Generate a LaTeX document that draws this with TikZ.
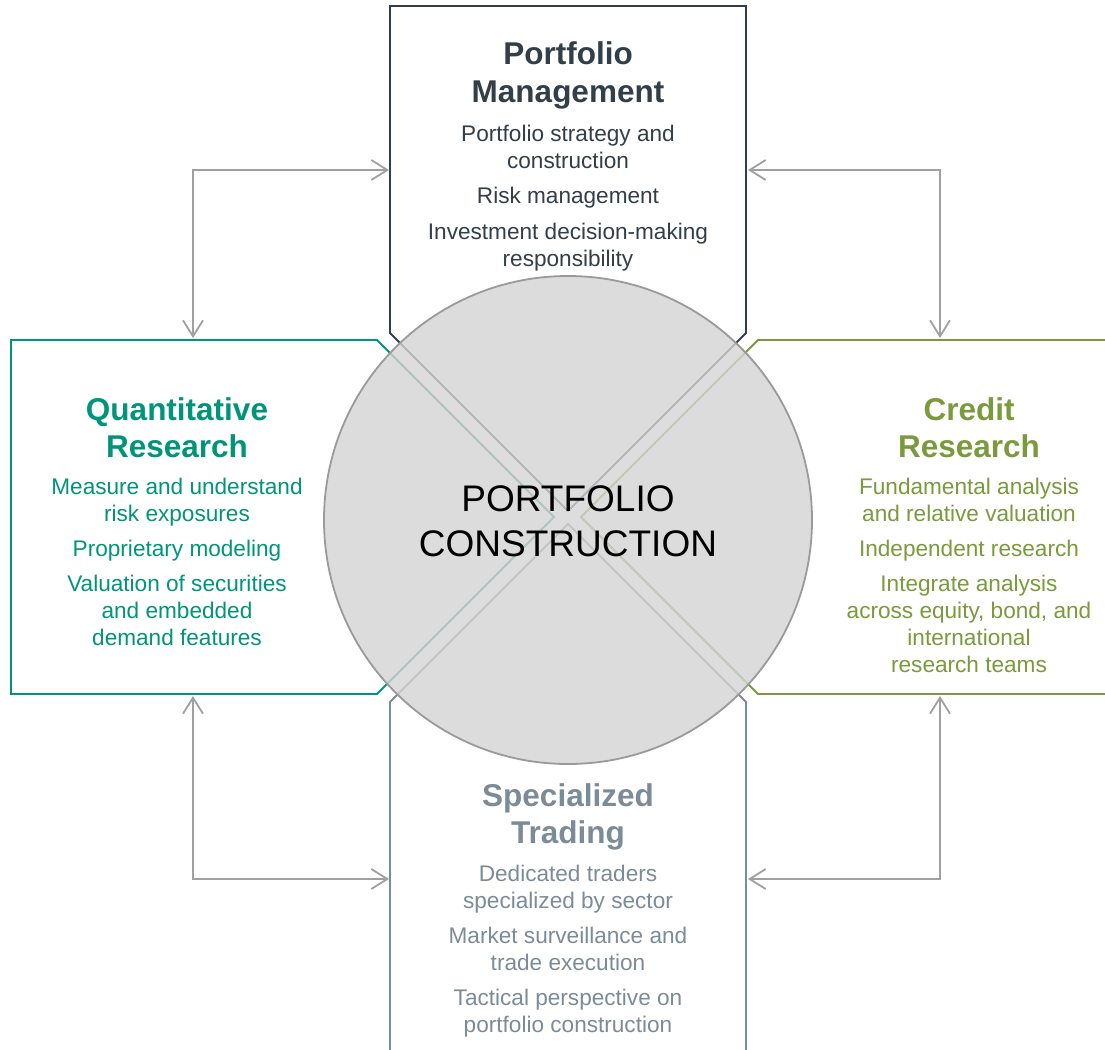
\documentclass[tikz,border=0pt]{standalone}
\usepackage{fontspec}
\setmainfont{Liberation Sans}
\usetikzlibrary{arrows.meta}

\definecolor{pmcol}{HTML}{333F48}
\definecolor{qrcol}{HTML}{00957A}
\definecolor{crcol}{HTML}{7A9A3C}
\definecolor{stcol}{HTML}{7C8B98}
\definecolor{arrcol}{HTML}{A0A0A0}
\definecolor{discfill}{HTML}{D4D4D4}
\definecolor{discline}{HTML}{9A9A9A}

\begin{document}
\begin{tikzpicture}[x=1pt,y=-1pt,
  boxline/.style={line width=1.8pt, fill=white, line join=miter},
  link/.style={draw=arrcol, line width=1.8pt, line join=miter,
    {Straight Barb[length=16pt,width=20pt]}-{Straight Barb[length=16pt,width=20pt]}},
  head/.style={font=\fontsize{31.5}{37}\selectfont\bfseries, anchor=base, align=center, inner sep=0pt},
  item/.style={font=\fontsize{22.6}{27}\selectfont, anchor=base, align=center, inner sep=0pt},
  centre/.style={font=\fontsize{37}{45}\selectfont, anchor=base, align=center, inner sep=0pt}]

\clip (0,0) rectangle (1105,1049);

% the four area boxes, each pointing into the centre
\draw[boxline, draw=pmcol] (390,6) -- (746,6) -- (746,333) -- (568,511) -- (390,333) -- cycle;
\draw[boxline, draw=qrcol] (11,340) -- (377,340) -- (554,517) -- (377,694) -- (11,694) -- cycle;
\draw[boxline, draw=crcol] (1130,340) -- (758,340) -- (581,517) -- (758,694) -- (1130,694) -- cycle;
\draw[boxline, draw=stcol] (390,1070) -- (390,702) -- (568,524) -- (746,702) -- (746,1070) -- cycle;

% central disc
\draw[draw=discline, line width=1.8pt, fill=discfill, fill opacity=0.8] (568,520) circle[radius=244pt];
% (base anchor of a multi-line node = baseline of its last line)
\node[centre] (core) at (568,556) {PORTFOLIO\\CONSTRUCTION};

% connector end points on the box edges
\coordinate (pmL) at (389,170);
\coordinate (pmR) at (748,170);
\coordinate (qrT) at (193,338);
\coordinate (qrB) at (193,696);
\coordinate (crT) at (940,338);
\coordinate (crB) at (940,696);
\coordinate (stL) at (389,879);
\coordinate (stR) at (748,879);

\draw[link] (pmL) -| (qrT);
\draw[link] (pmR) -| (crT);
\draw[link] (qrB) |- (stL);
\draw[link] (crB) |- (stR);

% Portfolio Management
\node[head, text=pmcol] (pmH) at (568,102) {Portfolio\\Management};
\node[item, text=pmcol] (pm1) at (568,168) {Portfolio strategy and\\construction};
\node[item, text=pmcol] (pm2) at (568,203) {Risk management};
\node[item, text=pmcol] (pm3) at (568,266) {Investment decision-making\\responsibility};

% Quantitative Research
\node[head, text=qrcol] (qrH) at (177,457) {Quantitative\\Research};
\node[item, text=qrcol] (qr1) at (177,521) {Measure and understand\\risk exposures};
\node[item, text=qrcol] (qr2) at (177,556) {Proprietary modeling};
\node[item, text=qrcol] (qr3) at (177,645) {Valuation of securities\\and embedded\\demand features};

% Credit Research
\node[head, text=crcol] (crH) at (969,457) {Credit\\Research};
\node[item, text=crcol] (cr1) at (969,521) {Fundamental analysis\\and relative valuation};
\node[item, text=crcol] (cr2) at (969,556) {Independent research};
\node[item, text=crcol] (cr3) at (969,672) {Integrate analysis\\across equity, bond, and\\international\\research teams};

% Specialized Trading
\node[head, text=stcol] (stH) at (568,843) {Specialized\\Trading};
\node[item, text=stcol] (st1) at (568,908) {Dedicated traders\\specialized by sector};
\node[item, text=stcol] (st2) at (568,970) {Market surveillance and\\trade execution};
\node[item, text=stcol] (st3) at (568,1032) {Tactical perspective on\\portfolio construction};
\end{tikzpicture}
\end{document}
